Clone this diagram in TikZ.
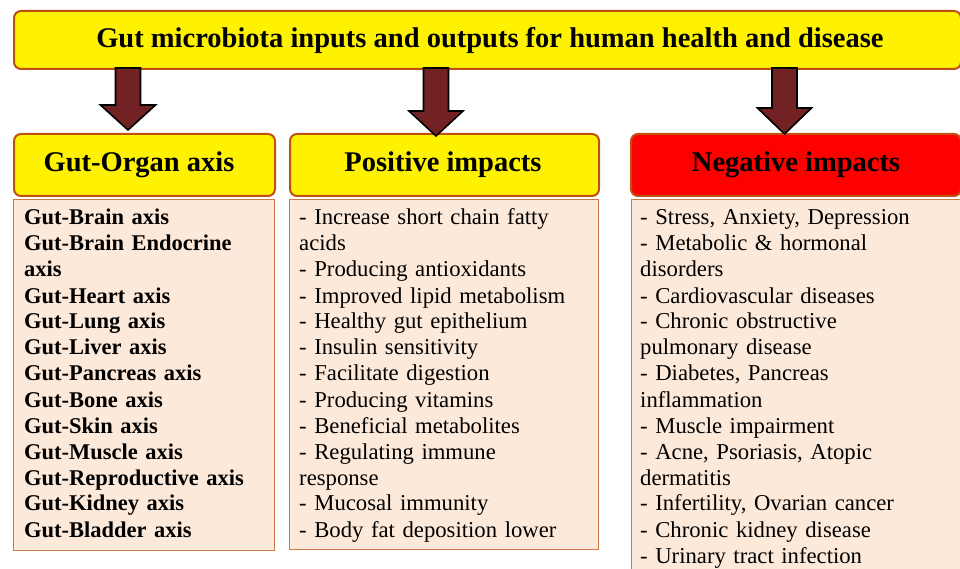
\documentclass[tikz,border=0pt]{standalone}
\usepackage{fontspec}
\setmainfont{Liberation Serif}
\definecolor{hdrborder}{HTML}{C0500F}
\definecolor{boxborder}{HTML}{CC7A48}
\definecolor{peach}{HTML}{FDE9D9}
\definecolor{arrowfill}{HTML}{722222}
\tikzset{
  hdr/.style={draw=hdrborder, line width=2pt, rounded corners=7pt, fill=yellow, anchor=north west, inner sep=0pt},
  listbox/.style={draw=boxborder, line width=1.2pt, fill=peach, anchor=north west, inner sep=0pt},
  hdrtext/.style={font=\fontsize{28.5}{30}\selectfont\bfseries, anchor=base, inner sep=0pt},
  listtext/.style={font=\fontsize{22.7}{26}\selectfont, align=left, text width=320pt, anchor=base west, inner sep=0pt},
  blockarrow/.style={draw=black, line width=1.6pt, fill=arrowfill, line join=miter}
}
\begin{document}
\begin{tikzpicture}[x=1pt,y=-1pt]
\useasboundingbox (0,0) rectangle (960,569);
% title
\node[hdr, minimum width=947pt, minimum height=58pt] (title) at (13,10) {};
\node[hdrtext] (titletext) at (490,48) {Gut microbiota inputs and outputs for human health and disease};
% headers
\node[hdr, minimum width=261pt, minimum height=62pt] (h1) at (13,133) {};
\node[hdr, minimum width=309pt, minimum height=62pt] (h2) at (289,133) {};
\node[hdr, fill=red, minimum width=330pt, minimum height=62pt] (h3) at (630,133) {};
\node[hdrtext] (h1t) at (139,172) {Gut-Organ axis};
\node[hdrtext] (h2t) at (443,172) {Positive impacts};
\node[hdrtext] (h3t) at (796,172) {Negative impacts};
% arrows
\coordinate (a1) at (128,68);
\coordinate (a2) at (436,68);
\coordinate (a3) at (784.5,68);
\draw[blockarrow] (a1) ++(-12.5,0) -- ++(0,37) -- ++(-15,0) -- ++(27.5,25) -- ++(27.5,-25) -- ++(-15,0) -- ++(0,-37) -- cycle;
\draw[blockarrow] (a2) ++(-12.5,0) -- ++(0,43) -- ++(-14.5,0) -- ++(27,25) -- ++(27,-25) -- ++(-14.5,0) -- ++(0,-43) -- cycle;
\draw[blockarrow] (a3) ++(-12.5,0) -- ++(0,40) -- ++(-14.5,0) -- ++(27,26) -- ++(27,-26) -- ++(-14.5,0) -- ++(0,-40) -- cycle;
% list boxes
\node[listbox, minimum width=261pt, minimum height=351pt] (b1) at (13,199) {};
\node[listbox, minimum width=309pt, minimum height=350pt] (b2) at (289,199) {};
\node[listbox, minimum width=340pt, minimum height=380pt] (b3) at (631,199) {};
\node[listtext, font=\fontsize{22.5}{26}\selectfont\bfseries] (l1) at (24,225) {Gut-Brain axis\\
Gut-Brain Endocrine\\
axis\\
Gut-Heart axis\\
Gut-Lung axis\\
Gut-Liver axis\\
Gut-Pancreas axis\\
Gut-Bone axis\\
Gut-Skin axis\\
Gut-Muscle axis\\
Gut-Reproductive axis\\
Gut-Kidney axis\\
Gut-Bladder axis};
\node[listtext] (l2) at (299,225) {- Increase short chain fatty\\
acids\\
- Producing antioxidants\\
- Improved lipid metabolism\\
- Healthy gut epithelium\\
- Insulin sensitivity\\
- Facilitate digestion\\
- Producing vitamins\\
- Beneficial metabolites\\
- Regulating immune\\
response\\
- Mucosal immunity\\
- Body fat deposition lower};
\node[listtext] (l3) at (640,225) {- Stress, Anxiety, Depression\\
- Metabolic \& hormonal\\
disorders\\
- Cardiovascular diseases\\
- Chronic obstructive\\
pulmonary disease\\
- Diabetes, Pancreas\\
inflammation\\
- Muscle impairment\\
- Acne, Psoriasis, Atopic\\
dermatitis\\
- Infertility, Ovarian cancer\\
- Chronic kidney disease\\
- Urinary tract infection};
\end{tikzpicture}
\end{document}
